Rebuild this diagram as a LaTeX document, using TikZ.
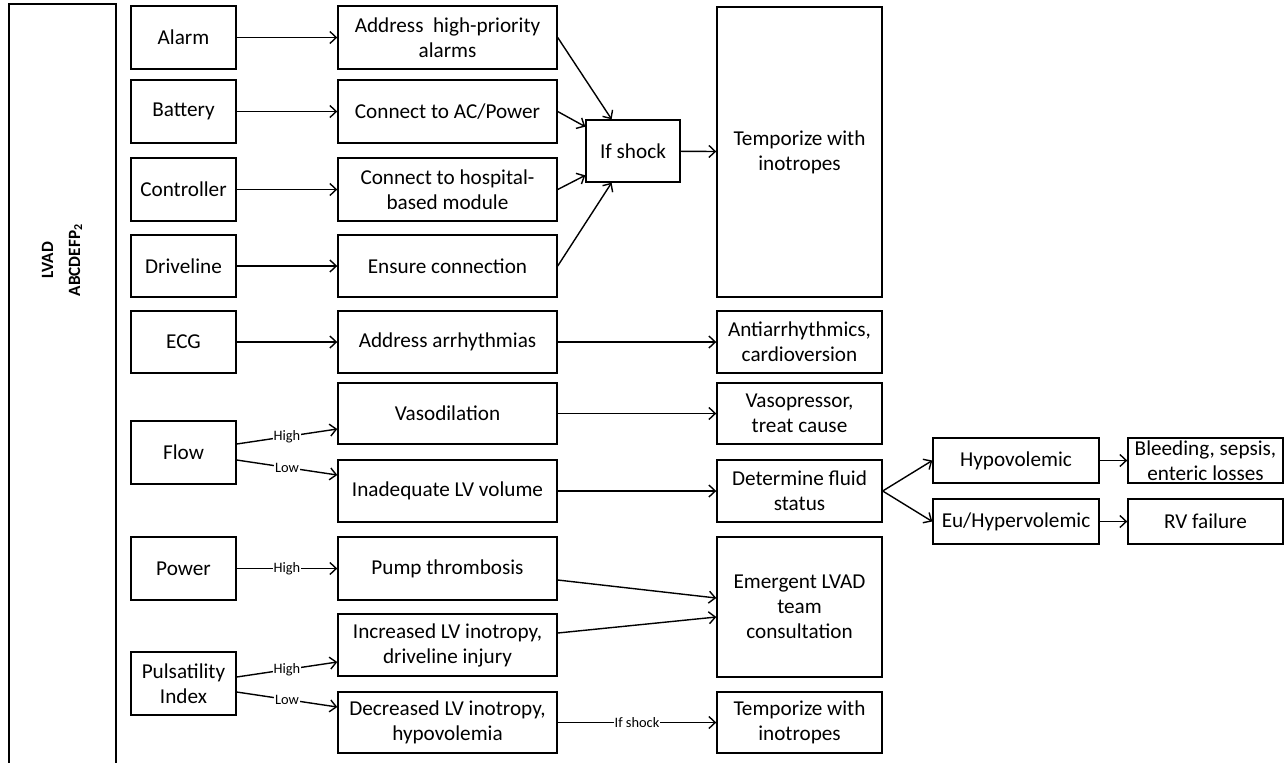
\documentclass[tikz,border=0pt]{standalone}
\usepackage{fontspec}
\setmainfont{Carlito}
\usetikzlibrary{arrows.meta}
\begin{document}
\begin{tikzpicture}[x=0.5pt,y=-0.5pt,
    box/.style={draw,line width=0.7pt,align=center,inner sep=1pt,
      font=\fontsize{10.6}{12.5}\selectfont},
    sign/.style={box,minimum width=52.5pt,minimum height=31.5pt},
    act/.style={box,minimum width=109.5pt,minimum height=31pt},
    result/.style={box,minimum width=82.5pt,minimum height=31pt},
    volbox/.style={box,minimum width=83pt,minimum height=22.5pt},
    causebox/.style={box,minimum width=77.5pt,minimum height=22.5pt},
    lbl/.style={fill=white,inner sep=0.5pt,font=\fontsize{7.2}{8}\selectfont},
    arr/.style={-{Straight Barb[length=3.2pt,width=6pt]},line width=0.7pt}]
  \useasboundingbox (0,0) rectangle (1284,762);
  % left frame
  \draw[line width=0.7pt] (9,775) -- (9,4) -- (116,4) -- (116,775);
  \node[rotate=90,align=center,font=\bfseries\fontsize{8.6}{13.5}\selectfont] (lvad) at (62,260) {LVAD\\ABCDEFP\textsubscript{2}};

  % first column
  \node[sign] (alarm) at (183.5,37.5) {Alarm};
  \node[sign] (battery) at (183.5,111.5) {Battery};
  \node[sign] (controller) at (183.5,189.5) {Controller};
  \node[sign,minimum height=31pt] (driveline) at (183.5,266) {Driveline};
  \node[sign,minimum height=31pt] (ecg) at (183.5,342) {ECG};
  \node[sign] (flow) at (183.5,452.5) {Flow};
  \node[sign] (power) at (183.5,568.5) {Power};
  \node[sign] (pulsatility) at (183.5,683.5) {Pulsatility\\Index};

  % second column
  \node[act,minimum height=31.5pt] (addralarm) at (447.5,37.5) {Address~~high-priority\\alarms};
  \node[act,minimum height=31.5pt] (acpower) at (447.5,111.5) {Connect to AC/Power};
  \node[act,minimum height=31.5pt] (module) at (447.5,189.5) {Connect to hospital-\\based module};
  \node[act] (connection) at (447.5,266) {Ensure connection};
  \node[act] (arrhythmia) at (447.5,342) {Address arrhythmias};
  \node[act,minimum height=30.5pt] (vasodil) at (447.5,413.5) {Vasodilation};
  \node[act] (lvvolume) at (447.5,491) {Inadequate LV volume};
  \node[act,minimum height=31.5pt] (thrombosis) at (447.5,568.5) {Pump thrombosis};
  \node[act] (incinotropy) at (447.5,645) {Increased LV inotropy,\\driveline injury};
  \node[act,minimum height=30.5pt] (decinotropy) at (447.5,722.5) {Decreased LV inotropy,\\hypovolemia};

  \node[box,minimum width=47pt,minimum height=31pt] (ifshock) at (633,151) {If shock};

  % third column
  \node[result,minimum height=145pt] (temporize) at (799.5,152) {Temporize with\\inotropes};
  \node[result] (antiarr) at (799.5,342) {Antiarrhythmics,\\cardioversion};
  \node[result,minimum height=30.5pt] (vasopressor) at (799.5,413.5) {Vasopressor,\\treat cause};
  \node[result] (fluid) at (799.5,491) {Determine fluid\\status};
  \node[result,minimum height=70pt] (emergent) at (799.5,607) {Emergent LVAD\\team\\consultation};
  \node[result,minimum height=30.5pt] (temporizeb) at (799.5,722.5) {Temporize with\\inotropes};

  % volume status
  \node[volbox] (hypo) at (1016,460.5) {Hypovolemic};
  \node[volbox] (euhyper) at (1016,521.5) {Eu/Hypervolemic};
  \node[causebox] (bleeding) at (1205.5,460.5) {Bleeding, sepsis,\\enteric losses};
  \node[causebox] (rvfail) at (1205.5,521.5) {RV failure};

  % connectors
  \draw[arr] (alarm) -- (addralarm);
  \draw[arr] (battery) -- (acpower);
  \draw[arr] (controller) -- (module);
  \draw[arr] (driveline) -- (connection);
  \draw[arr] (ecg) -- (arrhythmia);
  \draw[arr] (arrhythmia) -- (antiarr);
  \draw[arr] (addralarm.east) -- (ifshock.124);
  \draw[arr] (acpower.east) -- (ifshock.153);
  \draw[arr] (module.east) -- (ifshock.207);
  \draw[arr] (connection.east) -- (ifshock.236);
  \draw[arr] (ifshock) -- (temporize);
  \draw[arr] ([yshift=4.25pt]flow.east) -- node[lbl] {High} ([yshift=-7.75pt]vasodil.west);
  \draw[arr] ([yshift=-3.75pt]flow.east) -- node[lbl] {Low} ([yshift=8pt]lvvolume.west);
  \draw[arr] (vasodil) -- (vasopressor);
  \draw[arr] (lvvolume) -- (fluid);
  \draw[arr] (fluid.east) -- (hypo.west);
  \draw[arr] (fluid.east) -- (euhyper.west);
  \draw[arr] (hypo) -- (bleeding);
  \draw[arr] (euhyper) -- (rvfail);
  \draw[arr] (power) -- node[lbl] {High} (thrombosis);
  \draw[arr] ([yshift=3.25pt]pulsatility.east) -- node[lbl] {High} ([yshift=-8.5pt]incinotropy.west);
  \draw[arr] ([yshift=-4.25pt]pulsatility.east) -- node[lbl] {Low} ([yshift=7.75pt]decinotropy.west);
  \draw[arr] ([yshift=-5.75pt]thrombosis.east) -- ([yshift=4.5pt]emergent.west);
  \draw[arr] ([yshift=6pt]incinotropy.east) -- ([yshift=-5pt]emergent.west);
  \draw[arr] (decinotropy) -- node[lbl] {If shock} (temporizeb);
\end{tikzpicture}
\end{document}
